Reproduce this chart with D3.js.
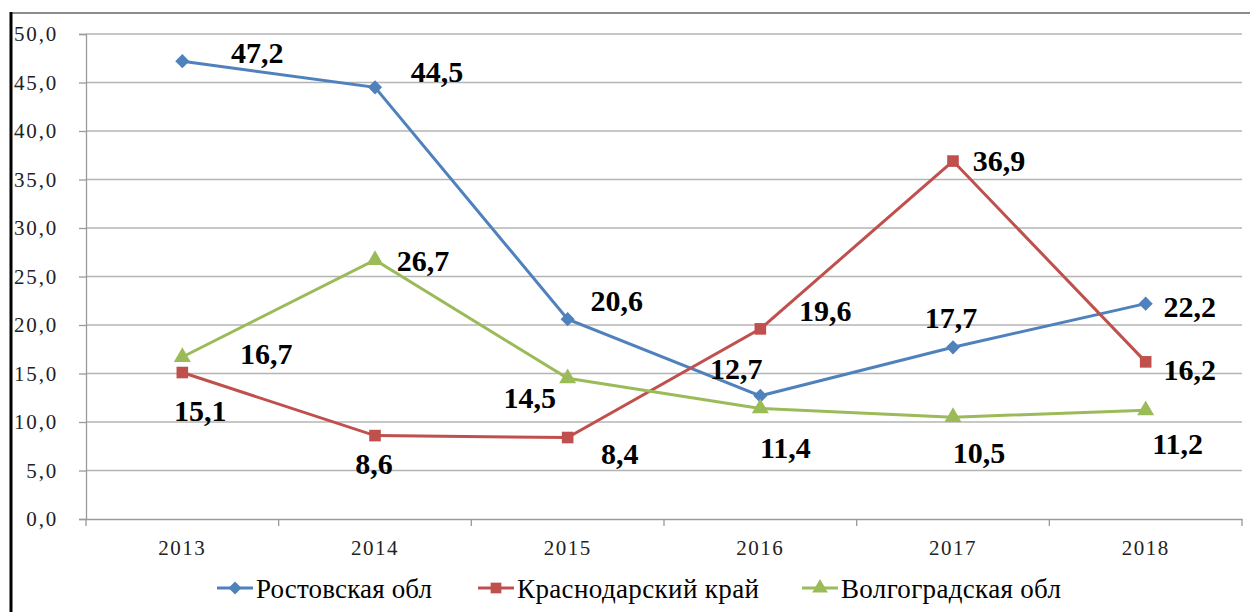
<!doctype html>
<html>
<head>
<meta charset="utf-8">
<script src="https://d3js.org/d3.v7.min.js"></script>
</head>
<body style="margin:0">
<svg width="1250" height="612"></svg>
<script>
var years = ["2013", "2014", "2015", "2016", "2017", "2018"];
var rostov = [47.2, 44.5, 20.6, 12.7, 17.7, 22.2];
var krasnodar = [15.1, 8.6, 8.4, 19.6, 36.9, 16.2];
var volgograd = [16.7, 26.7, 14.5, 11.4, 10.5, 11.2];
var seriesNames = ["Ростовская обл", "Краснодарский край", "Волгоградская обл"];
var yTicks = [0, 5, 10, 15, 20, 25, 30, 35, 40, 45, 50];

// label offsets from the point (dx = centre, dy = baseline)
var offRostov = [[75, 2], [62, -5], [49, -8], [-24, -17], [-2, -19], [44, 13]];
var offKrasnodar = [[18, 48], [-1, 38], [52, 26], [65, -8], [46, 10], [44, 18]];
var offVolgograd = [[84, 7], [48, 11], [-38, 30], [25, 50], [26, 46], [32, 44]];

var FONT = "'Liberation Serif', monospace";

var series = [
  {name: seriesNames[0], values: rostov, color: "#4F81BD", shape: "diamond", off: offRostov},
  {name: seriesNames[1], values: krasnodar, color: "#C0504D", shape: "square", off: offKrasnodar},
  {name: seriesNames[2], values: volgograd, color: "#9BBB59", shape: "triangle", off: offVolgograd}
];

function marker(shape, sc) {
  if (shape === "triangle") return d3.symbol().type(d3.symbolTriangle).size(125 * sc)();
  if (shape === "diamond") return d3.symbol().type(d3.symbolSquare).size(100 * sc)();
  return d3.symbol().type(d3.symbolSquare).size(135 * sc)();
}

var svg = d3.select("svg");

// outer frame
svg.append("line").attr("x1", 10).attr("x2", 1250).attr("y1", 13).attr("y2", 13)
  .attr("stroke", "#8c8c8c").attr("stroke-width", 2);
svg.append("line").attr("x1", 11).attr("x2", 11).attr("y1", 12).attr("y2", 612)
  .attr("stroke", "#000").attr("stroke-width", 3);

var plotL = 86, plotR = 1242, plotT = 34, plotB = 519;

var x = d3.scaleBand().domain(years).range([plotL, plotR]);
var y = d3.scaleLinear().domain([0, 50]).range([plotB, plotT]);
var fmt = function(v) { return d3.format(".1f")(v).replace(".", ","); };

// gridlines
svg.append("g").selectAll("line").data(yTicks.filter(function(d) { return d > 0; }))
  .enter().append("line")
  .attr("x1", plotL).attr("x2", plotR)
  .attr("y1", function(d) { return y(d); }).attr("y2", function(d) { return y(d); })
  .attr("stroke", "#b4b4b4").attr("stroke-width", 1.3);

var yAxis = svg.append("g").attr("transform", "translate(" + plotL + ",0)")
  .call(d3.axisLeft(y).tickValues(yTicks).tickSize(7).tickPadding(21).tickFormat(fmt));
yAxis.attr("font-family", FONT).attr("font-size", 21);
yAxis.select(".domain").attr("stroke", "#9a9a9a").attr("stroke-width", 1.3);
yAxis.selectAll(".tick line").attr("stroke", "#9a9a9a").attr("stroke-width", 1.3);
yAxis.selectAll(".tick text").attr("dy", "0.33em")
  .attr("font-family", FONT).attr("font-size", 21).attr("letter-spacing", 1.8).attr("fill", "#222");

var xAxis = svg.append("g").attr("transform", "translate(0," + plotB + ")")
  .call(d3.axisBottom(x).tickSize(0).tickPadding(21));
xAxis.attr("font-family", FONT).attr("font-size", 21);
xAxis.select(".domain").attr("stroke", "#9a9a9a").attr("stroke-width", 1.3);
xAxis.selectAll(".tick text").attr("dy", "0.71em")
  .attr("font-family", FONT).attr("font-size", 21).attr("letter-spacing", 1.5).attr("fill", "#222");
svg.append("g").selectAll("line").data(years.concat(["end"]))
  .enter().append("line")
  .attr("x1", function(d, i) { return plotL + i * x.bandwidth(); })
  .attr("x2", function(d, i) { return plotL + i * x.bandwidth(); })
  .attr("y1", plotB).attr("y2", plotB + 7)
  .attr("stroke", "#9a9a9a").attr("stroke-width", 1.3);

var cx = function(i) { return x(years[i]) + x.bandwidth() / 2; };
var line = d3.line().x(function(d, i) { return cx(i); }).y(function(d) { return y(d); });

series.forEach(function(s) {
  svg.append("path").datum(s.values)
    .attr("d", line).attr("fill", "none")
    .attr("stroke", s.color).attr("stroke-width", 3);
});
series.forEach(function(s) {
  svg.append("g").selectAll("path").data(s.values).enter().append("path")
    .attr("d", marker(s.shape, 1))
    .attr("transform", function(d, i) {
      return "translate(" + cx(i) + "," + y(d) + ")" + (s.shape === "diamond" ? " rotate(45)" : "");
    })
    .attr("fill", s.color);
});
series.forEach(function(s) {
  svg.append("g").selectAll("text").data(s.values).enter().append("text")
    .attr("text-anchor", "middle")
    .attr("font-family", FONT).attr("font-size", 30).attr("font-weight", "bold")
    .attr("x", function(d, i) { return cx(i) + s.off[i][0]; })
    .attr("y", function(d, i) { return y(d) + s.off[i][1]; })
    .text(fmt);
});

// legend
var legX = [217, 478, 802];
var legW = [176, 242, 220];
var legY = 588;
series.forEach(function(s, i) {
  var g = svg.append("g").attr("transform", "translate(" + legX[i] + "," + legY + ")");
  g.append("line").attr("x1", 0).attr("x2", 36).attr("y1", 0).attr("y2", 0)
    .attr("stroke", s.color).attr("stroke-width", 3);
  g.append("path").attr("d", marker(s.shape, 0.85))
    .attr("transform", "translate(18,0)" + (s.shape === "diamond" ? " rotate(45)" : ""))
    .attr("fill", s.color);
  g.append("text").attr("x", 39).attr("y", 10)
    .attr("font-family", FONT).attr("font-size", 27)
    .attr("textLength", legW[i]).attr("lengthAdjust", "spacing")
    .text(s.name);
});
</script>
</body>
</html>
